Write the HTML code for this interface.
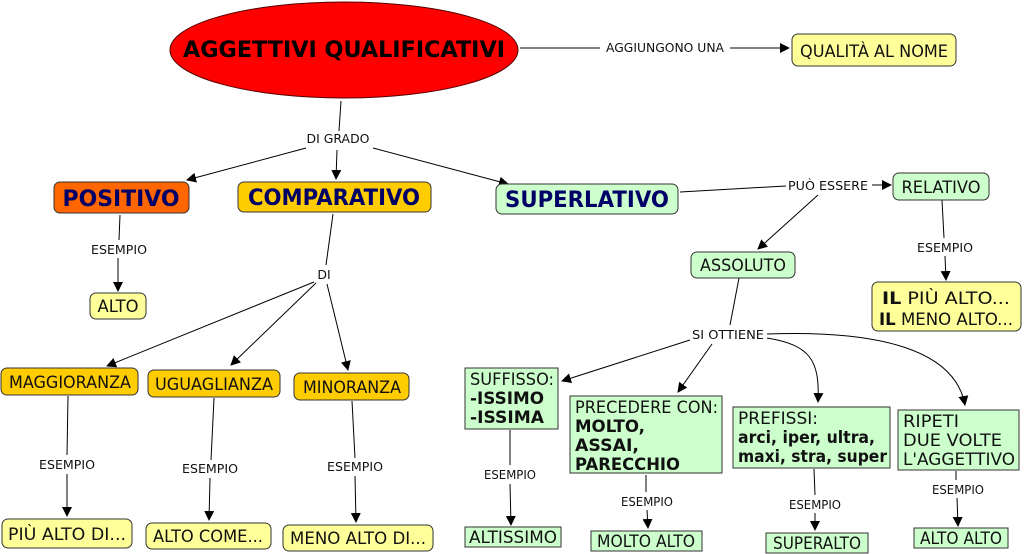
<!DOCTYPE html>
<html><head><meta charset="utf-8"><style>
html,body{margin:0;padding:0;background:#fff;}
svg{display:block;font-family:"DejaVu Sans","Liberation Sans",sans-serif;}
.b{stroke:#333;stroke-width:1;}
.l{font-size:12.5px;fill:#111;}
.t{font-size:17px;fill:#111;}
.h{font-size:22px;font-weight:bold;fill:#000066;}
</style></head><body>
<svg width="1024" height="554" viewBox="0 0 1024 554" xmlns="http://www.w3.org/2000/svg">
<defs><marker id="a" markerWidth="10" markerHeight="10" refX="9" refY="5" orient="auto" markerUnits="userSpaceOnUse"><path d="M0,0 L10,5 L0,10z" fill="#000"/></marker></defs>
<g stroke="#000" stroke-width="1" fill="none">
<line x1="520" y1="48" x2="600" y2="48"/><line x1="730" y1="48" x2="789" y2="48" marker-end="url(#a)"/>
<line x1="341" y1="101" x2="339" y2="131"/>
<line x1="306" y1="148" x2="187" y2="180" marker-end="url(#a)"/>
<line x1="337" y1="150" x2="336" y2="179" marker-end="url(#a)"/>
<line x1="373" y1="148" x2="508" y2="184" marker-end="url(#a)"/>
<line x1="120" y1="215" x2="119" y2="240"/><line x1="118" y1="258" x2="118" y2="291" marker-end="url(#a)"/>
<line x1="333" y1="214" x2="326" y2="265"/>
<line x1="314" y1="282" x2="107" y2="366" marker-end="url(#a)"/>
<line x1="316" y1="283" x2="231" y2="365" marker-end="url(#a)"/>
<line x1="327" y1="284" x2="348" y2="370" marker-end="url(#a)"/>
<line x1="68" y1="396" x2="67" y2="455"/><line x1="67" y1="474" x2="67" y2="516" marker-end="url(#a)"/>
<line x1="214" y1="398" x2="211" y2="460"/><line x1="210" y1="478" x2="209" y2="520" marker-end="url(#a)"/>
<line x1="352" y1="401" x2="355" y2="458"/><line x1="355" y1="476" x2="356" y2="522" marker-end="url(#a)"/>
<line x1="680" y1="192" x2="786" y2="186"/><line x1="872" y1="185" x2="891" y2="185" marker-end="url(#a)"/>
<line x1="818" y1="195" x2="758" y2="249" marker-end="url(#a)"/>
<line x1="942" y1="200" x2="944" y2="238"/><line x1="945" y1="256" x2="946" y2="280" marker-end="url(#a)"/>
<line x1="739" y1="278" x2="730" y2="325"/>
<line x1="690" y1="340" x2="562" y2="381" marker-end="url(#a)"/>
<line x1="712" y1="344" x2="678" y2="392" marker-end="url(#a)"/>
<path d="M767,338 C810,345 820,360 818,402" marker-end="url(#a)"/>
<path d="M767,334 C880,330 955,350 965,405" marker-end="url(#a)"/>
<line x1="510" y1="430" x2="510" y2="465"/><line x1="510" y1="484" x2="511" y2="525" marker-end="url(#a)"/>
<line x1="646" y1="475" x2="646" y2="492"/><line x1="647" y1="510" x2="648" y2="528" marker-end="url(#a)"/>
<line x1="814" y1="469" x2="815" y2="495"/><line x1="815" y1="513" x2="815" y2="530" marker-end="url(#a)"/>
<line x1="956" y1="471" x2="956" y2="480"/><line x1="957" y1="498" x2="958" y2="526" marker-end="url(#a)"/>
</g>
<ellipse cx="344" cy="50" rx="174" ry="48" fill="#ff0000" stroke="#550000"/>
<text x="344" y="57" text-anchor="middle" font-size="22" font-weight="bold" fill="#000" textLength="322" lengthAdjust="spacingAndGlyphs">AGGETTIVI QUALIFICATIVI</text>
<g class="l" text-anchor="middle">
<text x="665" y="52" textLength="118" lengthAdjust="spacingAndGlyphs">AGGIUNGONO UNA</text>
<text x="338" y="143" textLength="63" lengthAdjust="spacingAndGlyphs">DI GRADO</text>
<text x="119" y="254" textLength="56" lengthAdjust="spacingAndGlyphs">ESEMPIO</text>
<text x="324" y="279">DI</text>
<text x="67" y="469" textLength="56" lengthAdjust="spacingAndGlyphs">ESEMPIO</text>
<text x="210" y="473" textLength="56" lengthAdjust="spacingAndGlyphs">ESEMPIO</text>
<text x="355" y="471" textLength="56" lengthAdjust="spacingAndGlyphs">ESEMPIO</text>
<text x="828" y="190" textLength="80" lengthAdjust="spacingAndGlyphs">PUÒ ESSERE</text>
<text x="945" y="252" textLength="56" lengthAdjust="spacingAndGlyphs">ESEMPIO</text>
<text x="728" y="339" textLength="72" lengthAdjust="spacingAndGlyphs">SI OTTIENE</text>
<text x="510" y="479" textLength="52" lengthAdjust="spacingAndGlyphs">ESEMPIO</text>
<text x="647" y="506" textLength="52" lengthAdjust="spacingAndGlyphs">ESEMPIO</text>
<text x="815" y="509" textLength="52" lengthAdjust="spacingAndGlyphs">ESEMPIO</text>
<text x="958" y="494" textLength="52" lengthAdjust="spacingAndGlyphs">ESEMPIO</text>
</g>
<g class="b">
<rect x="792" y="34" width="164" height="32" rx="6" fill="#ffff99"/>
<rect x="54" y="182" width="135" height="31" rx="6" fill="#ff6600"/>
<rect x="238" y="182" width="193" height="30" rx="6" fill="#ffcc00"/>
<rect x="496" y="184" width="182" height="30" rx="6" fill="#ccffcc"/>
<rect x="90" y="293" width="56" height="26" rx="6" fill="#ffff99"/>
<rect x="1" y="368" width="137" height="27" rx="6" fill="#ffcc00"/>
<rect x="148" y="370" width="132" height="27" rx="6" fill="#ffcc00"/>
<rect x="294" y="373" width="115" height="27" rx="6" fill="#ffcc00"/>
<rect x="2" y="519" width="130" height="29" rx="6" fill="#ffff99"/>
<rect x="146" y="523" width="125" height="26" rx="6" fill="#ffff99"/>
<rect x="283" y="525" width="150" height="26" rx="6" fill="#ffff99"/>
<rect x="893" y="173" width="96" height="27" rx="6" fill="#ccffcc"/>
<rect x="872" y="282" width="149" height="49" rx="6" fill="#ffff99"/>
<rect x="691" y="252" width="104" height="26" rx="6" fill="#ccffcc"/>
<rect x="465" y="368" width="93" height="61" fill="#ccffcc"/>
<rect x="570" y="396" width="152" height="77" fill="#ccffcc"/>
<rect x="733" y="407" width="157" height="61" fill="#ccffcc"/>
<rect x="898" y="410" width="121" height="60" fill="#ccffcc"/>
<rect x="465" y="527" width="96" height="20" fill="#ccffcc"/>
<rect x="591" y="531" width="111" height="20" fill="#ccffcc"/>
<rect x="766" y="533" width="102" height="20" fill="#ccffcc"/>
<rect x="914" y="528" width="94" height="20" fill="#ccffcc"/>
</g>
<g class="h" text-anchor="middle">
<text x="121" y="206" textLength="117" lengthAdjust="spacingAndGlyphs">POSITIVO</text>
<text x="334" y="205" textLength="172" lengthAdjust="spacingAndGlyphs">COMPARATIVO</text>
<text x="587" y="207" textLength="164" lengthAdjust="spacingAndGlyphs">SUPERLATIVO</text>
</g>
<g class="t" text-anchor="middle">
<text x="874" y="57" textLength="148" lengthAdjust="spacingAndGlyphs">QUALITÀ AL NOME</text>
<text x="118" y="312" textLength="41" lengthAdjust="spacingAndGlyphs">ALTO</text>
<text x="70" y="388" textLength="122" lengthAdjust="spacingAndGlyphs">MAGGIORANZA</text>
<text x="214" y="390" textLength="118" lengthAdjust="spacingAndGlyphs">UGUAGLIANZA</text>
<text x="352" y="393" textLength="98" lengthAdjust="spacingAndGlyphs">MINORANZA</text>
<text x="67" y="540" textLength="118" lengthAdjust="spacingAndGlyphs">PIÙ ALTO DI...</text>
<text x="208" y="542" textLength="110" lengthAdjust="spacingAndGlyphs">ALTO COME...</text>
<text x="358" y="544" textLength="136" lengthAdjust="spacingAndGlyphs">MENO ALTO DI...</text>
<text x="941" y="193" textLength="79" lengthAdjust="spacingAndGlyphs">RELATIVO</text>
<text x="743" y="271" textLength="86" lengthAdjust="spacingAndGlyphs">ASSOLUTO</text>
<text x="513" y="543" textLength="88" lengthAdjust="spacingAndGlyphs">ALTISSIMO</text>
<text x="646" y="547" textLength="98" lengthAdjust="spacingAndGlyphs">MOLTO ALTO</text>
<text x="817" y="549" textLength="88" lengthAdjust="spacingAndGlyphs">SUPERALTO</text>
<text x="961" y="544" textLength="82" lengthAdjust="spacingAndGlyphs">ALTO ALTO</text>
<text x="946" y="304" textLength="128" lengthAdjust="spacingAndGlyphs"><tspan font-weight="bold">IL</tspan> PIÙ ALTO...</text>
<text x="946" y="325" textLength="134" lengthAdjust="spacingAndGlyphs"><tspan font-weight="bold">IL</tspan> MENO ALTO...</text>
</g>
<g class="t">
<text x="470" y="385" textLength="84" lengthAdjust="spacingAndGlyphs">SUFFISSO:</text>
<text x="470" y="404" font-weight="bold" textLength="74" lengthAdjust="spacingAndGlyphs">-ISSIMO</text>
<text x="470" y="423" font-weight="bold" textLength="74" lengthAdjust="spacingAndGlyphs">-ISSIMA</text>
<text x="575" y="413" textLength="143" lengthAdjust="spacingAndGlyphs">PRECEDERE CON:</text>
<text x="575" y="432" font-weight="bold" textLength="70" lengthAdjust="spacingAndGlyphs">MOLTO,</text>
<text x="575" y="451" font-weight="bold" textLength="64" lengthAdjust="spacingAndGlyphs">ASSAI,</text>
<text x="575" y="470" font-weight="bold" textLength="105" lengthAdjust="spacingAndGlyphs">PARECCHIO</text>
<text x="738" y="424" textLength="80" lengthAdjust="spacingAndGlyphs">PREFISSI:</text>
<text x="738" y="443" font-weight="bold" textLength="137" lengthAdjust="spacingAndGlyphs">arci, iper, ultra,</text>
<text x="738" y="462" font-weight="bold" textLength="149" lengthAdjust="spacingAndGlyphs">maxi, stra, super</text>
<text x="903" y="427" textLength="56" lengthAdjust="spacingAndGlyphs">RIPETI</text>
<text x="903" y="446" textLength="99" lengthAdjust="spacingAndGlyphs">DUE VOLTE</text>
<text x="903" y="465" textLength="112" lengthAdjust="spacingAndGlyphs">L'AGGETTIVO</text>
</g>
</svg>
</body></html>
